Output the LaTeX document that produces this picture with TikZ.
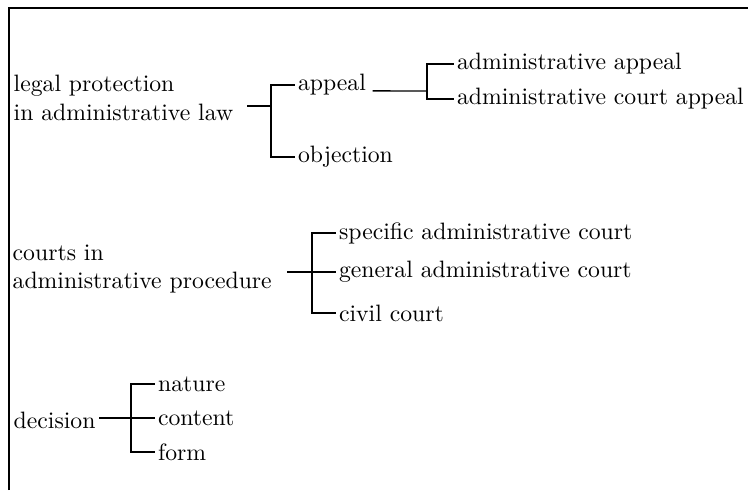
\documentclass[tikz,border=0pt]{standalone}
\usepackage{tikz}

\begin{document}
\begin{tikzpicture}[x=.422pt,y=-.422pt,line width=.6pt,
  root/.style={anchor=west,align=left,inner sep=0pt},
  leaf/.style={anchor=west,inner sep=1pt}]
\useasboundingbox (0,0) rectangle (748,490);
\draw[line width=.8pt] (9,490) -- (9,8) -- (748,8);
% legal protection
\node[root] (lp) at (13,98) {legal protection\\in administrative law};
\coordinate (lps) at (247,106);
\coordinate (lpj) at (271,106);
\node[leaf] (ap) at (295,85) {appeal};
\node[leaf] (ob) at (295,157) {objection};
\draw (lps) -- (lpj);
\foreach \n in {ap,ob}
\draw (lpj) |- (\n.west);
\coordinate (apj) at (427,91);
\node[leaf] (aa) at (454,64) {administrative appeal};
\node[leaf] (aca) at (454,99) {administrative court appeal};
\draw ([xshift=1.5pt]ap.base east) -- (apj);
\foreach \n in {aa,aca}
\draw (apj) |- (\n.west);
% courts
\node[root] (cp) at (12,269) {courts in\\administrative procedure};
\coordinate (cps) at (287,272);
\coordinate (cpj) at (312,272);
\node[leaf] (sac) at (336,233) {specific administrative court};
\node[leaf] (gac) at (336,272) {general administrative court};
\node[leaf] (cc) at (336,313) {civil court};
\draw (cps) -- (cpj);
\foreach \n in {sac,gac,cc}
\draw (cpj) |- (\n.west);
% decision
\node[root] (dc) at (13,420) {decision};
\coordinate (dcs) at (99,418);
\coordinate (dcj) at (131,418);
\node[leaf] (na) at (155,384) {nature};
\node[leaf] (co) at (155,418) {content};
\node[leaf] (fo) at (155,452) {form};
\draw (dcs) -- (dcj);
\foreach \n in {na,co,fo}
\draw (dcj) |- (\n.west);
\end{tikzpicture}
\end{document}
